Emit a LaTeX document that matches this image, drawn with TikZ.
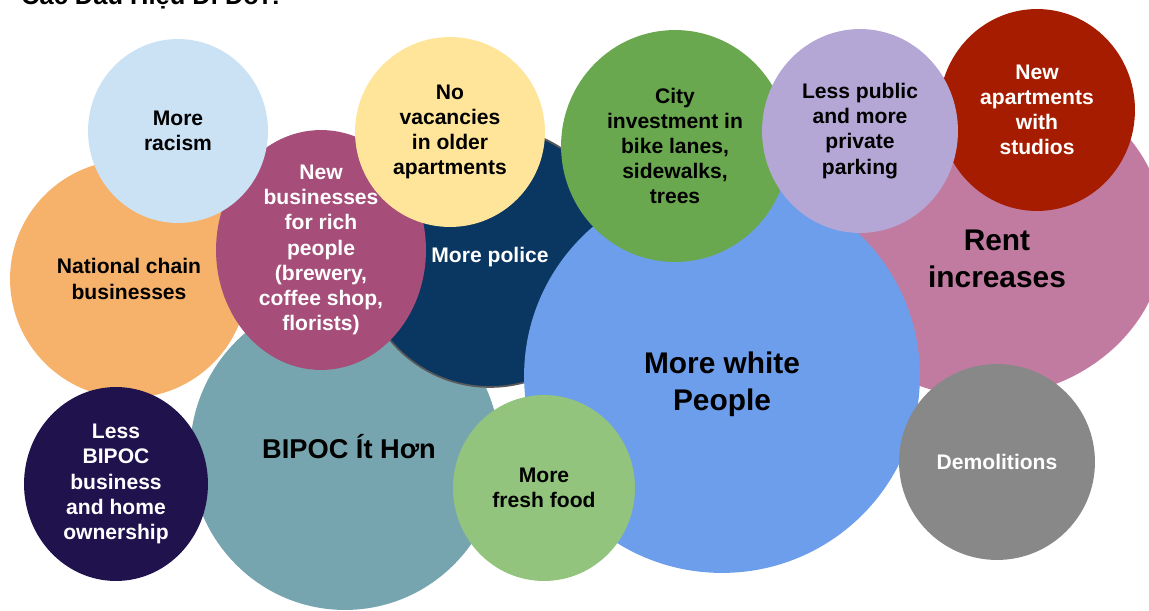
\documentclass[tikz,border=0pt]{standalone}
\usepackage{fontspec}
\setmainfont{Liberation Sans}
\definecolor{chainorange}{HTML}{F6B26B}
\definecolor{racismblue}{HTML}{CBE1F4}
\definecolor{richmagenta}{HTML}{A64D79}
\definecolor{vacancyyellow}{HTML}{FFE599}
\definecolor{policenavy}{HTML}{0A3761}
\definecolor{bipocteal}{HTML}{76A5AF}
\definecolor{ownerpurple}{HTML}{20124D}
\definecolor{citygreen}{HTML}{6AA84F}
\definecolor{parklavender}{HTML}{B4A7D6}
\definecolor{studiored}{HTML}{A61C00}
\definecolor{rentpink}{HTML}{C27BA0}
\definecolor{whiteblue}{HTML}{6D9EEB}
\definecolor{demogray}{HTML}{888888}
\definecolor{foodgreen}{HTML}{93C47D}
\usetikzlibrary{shapes.geometric}

\begin{document}
\begin{tikzpicture}[
 x = 0.02cm, y = -0.02cm,
 bubble/.style = {ellipse, fill=#1, inner sep=0pt, align=center,
                  font=\bfseries\fontsize{12}{14.3}\selectfont},
 light/.style  = {bubble=#1, text=white},
 big/.style    = {align=center, font=\bfseries\fontsize{17}{21}\selectfont},
 rad/.style 2 args = {minimum width=#1*0.04cm, minimum height=#2*0.04cm}
                 ]
\useasboundingbox (0,0) rectangle (1149,611);

\node[anchor=base west, font=\bfseries\fontsize{14.5}{17}\selectfont]
      (title) at (15,5) {Các Dấu Hiệu Di Dời?};

\node[bubble=rentpink, rad={180}{162}] (rent) at (985,235) {};
\node[big] (renttext) at (997,259) {Rent\\increases};
\node[bubble=chainorange, rad={119}{119}] (chain) at (129,279)
                     {National chain\\businesses};
\node[bubble=bipocteal, rad={155}{157}] (bipoc) at (345,453) {};
\node[font=\bfseries\fontsize{15.5}{18}\selectfont] (bipoctext) at (349,447)
                     {BIPOC Ít Hơn};
\node[light=policenavy, rad={130}{130}, draw=black!65, line width=1pt]
      (police) at (490,257) {More police};
\node[bubble=whiteblue, rad={198}{197}] (white) at (722,376) {};
\node[big] (whitetext) at (722,384) {More white\\People};
\node[light=richmagenta, rad={105}{114}] (rich) at (321,250)
                     {New\\businesses\\for rich\\people\\(brewery,\\coffee shop,\\florists)};
\node[bubble=racismblue, rad={90}{92}] (racism) at (178,131)
                     {More\\racism};
\node[bubble=vacancyyellow, rad={95}{95}] (vacancy) at (450,132)
                     {No\\vacancies\\in older\\apartments};
\node[bubble=citygreen, rad={114}{116}] (city) at (675,146)
                     {City\\investment in\\bike lanes,\\sidewalks,\\trees};
\node[light=studiored, rad={98}{101}] (studio) at (1037,110)
                     {New\\apartments\\with\\studios};
\node[bubble=parklavender, rad={98}{102}] (parking) at (860,131)
                     {Less public\\and more\\private\\parking};
\node[light=demogray, rad={98}{98}] (demo) at (997,462)
                     {Demolitions};
\node[bubble=foodgreen, rad={91}{93}] (food) at (544,488)
                     {More\\fresh food};
\node[light=ownerpurple, rad={92}{97}] (owner) at (116,484)
                     {Less\\BIPOC\\business\\and home\\ownership};
\end{tikzpicture}
\end{document}
